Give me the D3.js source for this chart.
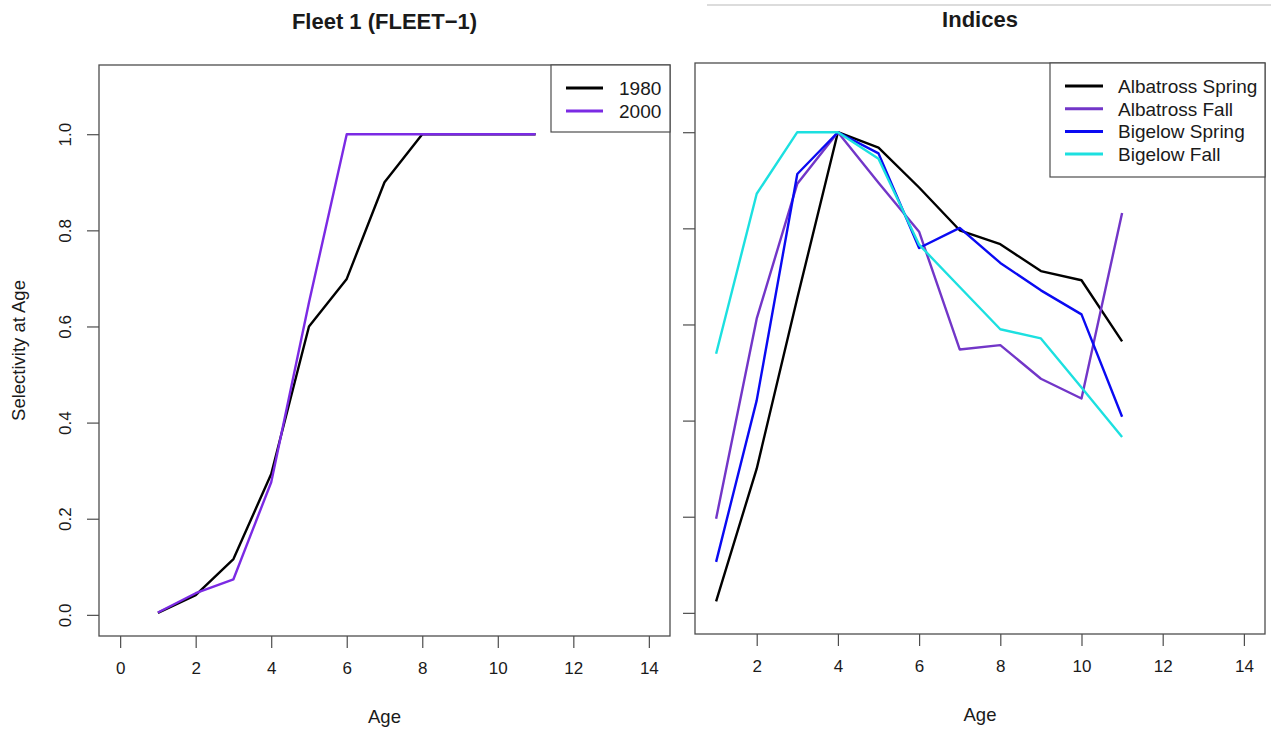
<!DOCTYPE html>
<html>
<head>
<meta charset="utf-8">
<script src="https://cdn.jsdelivr.net/npm/d3@7"></script>
<style>
  html, body { margin: 0; padding: 0; background: #fff; }
  svg { display: block; font-family: "Liberation Sans", Arial, sans-serif; }
</style>
</head>
<body>
<svg id="chart" width="1271" height="731"></svg>
<script>
// ---------------- data ----------------
const fleetAges = [1, 2, 3, 4, 5, 6, 7, 8, 9, 10, 11];
const fleet1980 = [0.004, 0.041, 0.116, 0.293, 0.600, 0.699, 0.900, 1.0, 1.0, 1.0, 1.0];
const fleet2000 = [0.005, 0.045, 0.074, 0.276, 0.650, 1.0, 1.0, 1.0, 1.0, 1.0, 1.0];
const fleetSeriesNames = ["1980", "2000"];

const indexAges = [1, 2, 3, 4, 5, 6, 7, 8, 9, 10, 11];
const albatrossSpring = [0.024, 0.300, 0.655, 1.0, 0.968, 0.885, 0.796, 0.767, 0.711, 0.692, 0.565];
const albatrossFall   = [0.196, 0.612, 0.893, 1.0, 0.895, 0.793, 0.548, 0.557, 0.487, 0.446, 0.832];
const bigelowSpring   = [0.106, 0.442, 0.913, 1.0, 0.956, 0.759, 0.801, 0.728, 0.671, 0.621, 0.408];
const bigelowFall     = [0.539, 0.872, 1.0, 1.0, 0.945, 0.766, 0.678, 0.590, 0.571, 0.469, 0.366];
const indexSeriesNames = ["Albatross Spring", "Albatross Fall", "Bigelow Spring", "Bigelow Fall"];

const leftXTicks = [0, 2, 4, 6, 8, 10, 12, 14];
const rightXTicks = [2, 4, 6, 8, 10, 12, 14];
const yTicks = [0, 0.2, 0.4, 0.6, 0.8, 1.0];

const leftTitle = "Fleet 1 (FLEET\u22121)";
const rightTitle = "Indices";
const xLabel = "Age";
const yLabel = "Selectivity at Age";

// ---------------- styling ----------------
const textCol = "#1a1a1a";
const frameCol = "#4d4d4d";
const lineW = 2.4;
const fleetColors = ["#000000", "#7b2ae4"];
const indexColors = ["#000000", "#7236c8", "#0a0af2", "#1ce0e0"];
const FONT = "Liberation Sans, Arial, sans-serif";

const svg = d3.select("#chart");

// R-style padded ranges: xlim/ylim extended 4% on each side
function padded(lo, hi) { const d = (hi - lo) * 0.04; return [lo - d, hi + d]; }

function panel(opts) {
  const g = svg.append("g");
  const x = d3.scaleLinear().domain(padded(opts.xlim[0], opts.xlim[1])).range([opts.left, opts.right]);
  const y = d3.scaleLinear().domain(padded(0, 1.1)).range([opts.bottom, opts.top]);

  // lines
  const line = d3.line().x(d => x(d[0])).y(d => y(d[1]));
  opts.series.forEach((s, i) => {
    g.append("path")
      .datum(opts.ages.map((a, k) => [a, s[k]]))
      .attr("d", line)
      .attr("fill", "none")
      .attr("stroke", opts.colors[i])
      .attr("stroke-width", lineW)
      .attr("stroke-linejoin", "round");
  });

  // x axis
  const xa = g.append("g").attr("transform", `translate(0,${opts.bottom})`)
    .call(d3.axisBottom(x).tickValues(opts.xTicks).tickSize(12).tickPadding(14).tickFormat(d3.format("d")));
  xa.select(".domain").remove();
  xa.selectAll("line").attr("stroke", frameCol).attr("stroke-width", 1.2);
  xa.selectAll("text").attr("fill", textCol).style("font-size", "17px").style("font-family", FONT);

  // y axis
  const ya = g.append("g").attr("transform", `translate(${opts.left},0)`)
    .call(d3.axisLeft(y).tickValues(yTicks).tickSize(12).tickFormat(opts.yLabels ? d3.format(".1f") : () => ""));
  ya.select(".domain").remove();
  ya.selectAll("line").attr("stroke", frameCol).attr("stroke-width", 1.2);
  if (opts.yLabels) {
    ya.selectAll("text")
      .attr("fill", textCol)
      .style("font-size", "17px")
      .style("font-family", FONT)
      .attr("text-anchor", "middle")
      .attr("dy", 0)
      .attr("x", 0)
      .attr("transform", "translate(-28,0) rotate(-90)");
  }

  // frame
  g.append("rect")
    .attr("x", opts.left).attr("y", opts.top)
    .attr("width", opts.right - opts.left).attr("height", opts.bottom - opts.top)
    .attr("fill", "none").attr("stroke", frameCol).attr("stroke-width", 1.3);

  const cx = (opts.left + opts.right) / 2;
  // title
  g.append("text").attr("x", cx).attr("y", opts.top - 36)
    .attr("text-anchor", "middle").attr("font-weight", "bold")
    .style("font-size", "22px").attr("fill", textCol).text(opts.title);
  // x label
  g.append("text").attr("x", cx).attr("y", opts.bottom + 87)
    .attr("text-anchor", "middle").style("font-size", "18.5px").attr("fill", textCol).text(xLabel);
  // y label
  if (opts.yTitle) {
    g.append("text").attr("transform", `translate(${opts.left - 74},${(opts.top + opts.bottom) / 2}) rotate(-90)`)
      .attr("text-anchor", "middle").style("font-size", "18.5px").attr("fill", textCol).text(opts.yTitle);
  }

  // legend
  const L = opts.legend;
  const lg = g.append("g");
  lg.append("rect").attr("x", L.x0).attr("y", opts.top).attr("width", opts.right - L.x0)
    .attr("height", L.y1 - opts.top).attr("fill", "#fff").attr("stroke", frameCol).attr("stroke-width", 1.2);
  opts.names.forEach((n, i) => {
    const yy = L.yStart + i * L.step;
    lg.append("line").attr("x1", L.lx0).attr("x2", L.lx1).attr("y1", yy).attr("y2", yy)
      .attr("stroke", opts.colors[i]).attr("stroke-width", 3);
    lg.append("text").attr("x", L.tx).attr("y", yy).attr("dy", "0.36em")
      .style("font-size", "19px").attr("fill", textCol).text(n);
  });
}

panel({
  left: 99, right: 670, top: 65, bottom: 636,
  xlim: [0, 14], xTicks: leftXTicks, yLabels: true, yTitle: yLabel,
  ages: fleetAges, series: [fleet1980, fleet2000], colors: fleetColors,
  names: fleetSeriesNames, title: leftTitle,
  legend: { x0: 551, y1: 132, lx0: 566, lx1: 603, tx: 619, yStart: 88, step: 23 }
});

panel({
  left: 695, right: 1265, top: 63, bottom: 634,
  xlim: [1, 14], xTicks: rightXTicks, yLabels: false, yTitle: null,
  ages: indexAges, series: [albatrossSpring, albatrossFall, bigelowSpring, bigelowFall], colors: indexColors,
  names: indexSeriesNames, title: rightTitle,
  legend: { x0: 1050, y1: 177, lx0: 1065, lx1: 1103, tx: 1118, yStart: 86, step: 22.7 }
});

// faint screenshot edge at the top right
svg.append("line").attr("x1", 707).attr("x2", 1271).attr("y1", 5).attr("y2", 5)
  .attr("stroke", "#d0d0d0").attr("stroke-width", 1.5);
</script>
</body>
</html>
